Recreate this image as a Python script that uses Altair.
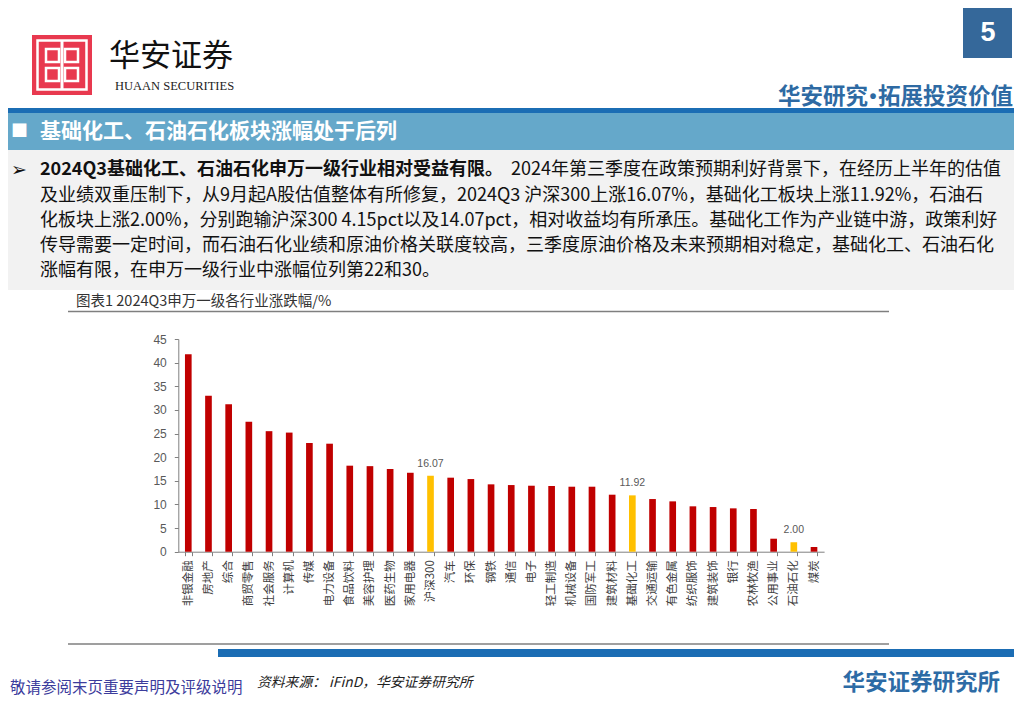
import altair as alt
import pandas as pd

# ---------------- data ----------------
industries = ["非银金融", "房地产", "综合", "商贸零售", "社会服务", "计算机", "传媒", "电力设备",
              "食品饮料", "美容护理", "医药生物", "家用电器", "沪深300", "汽车", "环保", "钢铁",
              "通信", "电子", "轻工制造", "机械设备", "国防军工", "建筑材料", "基础化工", "交通运输",
              "有色金属", "纺织服饰", "建筑装饰", "银行", "农林牧渔", "公用事业", "石油石化", "煤炭"]
changes = [41.75, 33.0, 31.2, 27.5, 25.5, 25.2, 23.0, 22.85,
           18.2, 18.1, 17.5, 16.7, 16.07, 15.66, 15.37, 14.25,
           14.1, 13.96, 13.9, 13.75, 13.75, 12.06, 11.92, 11.14,
           10.65, 9.6, 9.45, 9.17, 9.03, 2.75, 2.00, 0.99]
highlighted = ["沪深300", "基础化工", "石油石化"]
y_ticks = [0, 5, 10, 15, 20, 25, 30, 35, 40, 45]

page_no = "5"
brand_cn = "华安证券"
brand_en = "HUAAN SECURITIES"
slogan_left = "华安研究"
slogan_dot = "•"
slogan_right = "拓展投资价值"
section_title = "基础化工、石油石化板块涨幅处于后列"
para_bold = "2024Q3基础化工、石油石化申万一级行业相对受益有限。"
para_first = "2024年第三季度在政策预期利好背景下，在经历上半年的估值"
para_lines = [
    "及业绩双重压制下，从9月起A股估值整体有所修复，2024Q3 沪深300上涨16.07%，基础化工板块上涨11.92%，石油石",
    "化板块上涨2.00%，分别跑输沪深300  4.15pct以及14.07pct，相对收益均有所承压。基础化工作为产业链中游，政策利好",
    "传导需要一定时间，而石油石化业绩和原油价格关联度较高，三季度原油价格及未来预期相对稳定，基础化工、石油石化",
    "涨幅有限，在申万一级行业中涨幅位列第22和30。",
]
caption = "图表1  2024Q3申万一级各行业涨跌幅/%"
disclaimer = "敬请参阅末页重要声明及评级说明"
source = "资料来源：  iFinD，华安证券研究所"
institute = "华安证券研究所"

CJK = "Noto Sans CJK SC"
LAT = "Liberation Sans"
W, H = 1006, 690
M = 8  # page margin

df = pd.DataFrame({"industry": industries, "change": changes})
df["kind"] = ["hl" if i in highlighted else "base" for i in industries]


def txt(s, x, y, size, color="#000000", weight="normal", align="left",
        font=CJK, style="normal", baseline="middle"):
    return alt.Chart(pd.DataFrame({"t": [s]})).mark_text(
        align=align, baseline=baseline, fontSize=size, font=font,
        color=color, fontWeight=weight, fontStyle=style
    ).encode(x=alt.value(x - M), y=alt.value(y - M), text="t:N")


def rect(x0, y0, x1, y1, color):
    return alt.Chart(pd.DataFrame({"k": [f"{x0}-{y0}-{color}"]})).mark_rect(color=color).encode(
        x=alt.value(x0 - M), x2=alt.value(x1 - M),
        y=alt.value(y0 - M), y2=alt.value(y1 - M))


def outline(x0, y0, x1, y1, color, width):
    return alt.Chart(pd.DataFrame({"k": [f"{x0}-{y0}"]})).mark_rect(
        fillOpacity=0, stroke=color, strokeWidth=width).encode(
        x=alt.value(x0 - M), x2=alt.value(x1 - M),
        y=alt.value(y0 - M), y2=alt.value(y1 - M))


layers = []
# ---- header / logo ----
layers.append(rect(32, 35, 92, 95, "#E8394F"))
layers.append(outline(37.5, 40.5, 86.5, 89.5, "#FFFFFF", 2.5))
layers.append(outline(46, 49, 59, 62, "#FFFFFF", 2.5))
layers.append(outline(65, 49, 78, 62, "#FFFFFF", 2.5))
layers.append(outline(46, 68, 59, 81, "#FFFFFF", 2.5))
layers.append(outline(65, 68, 78, 81, "#FFFFFF", 2.5))
layers.append(rect(60.5, 40, 63.5, 90, "#FFFFFF"))
layers.append(txt(brand_cn, 109, 57, 31, "#111111"))
layers.append(txt(brand_en, 115, 86, 12.5, "#222222", font="Liberation Serif"))
layers.append(rect(963, 8, 1012, 58, "#35689A"))
layers.append(txt(page_no, 988, 33, 27, "#FFFFFF", weight="bold", align="center", font=LAT))
layers.append(txt(slogan_right, 1013, 97, 22.5, "#2E6AA3", weight="bold", align="right"))
layers.append(txt(slogan_dot, 873, 97, 20, "#2E6AA3", weight="bold", align="center", font=LAT))
layers.append(txt(slogan_left, 868, 97, 22.5, "#2E6AA3", weight="bold", align="right"))
layers.append(rect(8, 108, 1016, 113, "#1B6DB4"))
layers.append(rect(8, 113, 1016, 150, "#65A8CA"))
layers.append(txt("■", 11, 132, 17, "#FFFFFF", font=CJK))
layers.append(txt(section_title, 40, 132, 21, "#FFFFFF", weight="bold"))
# ---- frame lines (grey band covered by white leaves a thin rule) ----
layers.append(rect(68, 292, 889, 312.3, "#7F7F7F"))
layers.append(rect(68, 291, 889, 310.8, "#FFFFFF"))
layers.append(rect(68, 625, 889, 644.8, "#7F7F7F"))
layers.append(rect(68, 624, 889, 643.3, "#FFFFFF"))
# ---- paragraph ----
layers.append(rect(8, 150, 1016, 290, "#F2F2F2"))
layers.append(txt("➢", 11, 170, 19, "#111111", font="DejaVu Sans"))
layers.append(txt(para_bold, 40, 170, 18, "#111111", weight="bold"))
layers.append(txt(para_first, 511, 170, 18, "#111111"))
for i, line in enumerate(para_lines):
    layers.append(txt(line, 40, 195.5 + 25.3 * i, 18, "#111111"))
# ---- chart caption / footer texts ----
layers.append(txt(caption, 76, 302, 14.5, "#333333"))
layers.append(rect(218, 649, 1016, 657, "#1B6DB4"))
layers.append(txt(disclaimer, 10, 688, 15.5, "#3C3C9C"))
layers.append(txt(source, 257, 683, 13.8, "#222222", style="italic"))
layers.append(txt(institute, 1000, 683, 22.5, "#2D6BA5", weight="bold", align="right"))

# ---- bar chart ----
x_range = [178.2 - M, 824.1 - M]
y_range = [551.7 - M, 339 - M]

xenc = alt.X("industry:N", sort=industries,
             scale=alt.Scale(range=x_range, paddingInner=0.67, paddingOuter=0.335),
             axis=alt.Axis(title=None, labelAngle=270, labelFont=CJK, labelFontSize=11.5,
                           labelColor="#404040", labelPadding=4, tickBand="extent",
                           tickSize=4, tickColor="#808080", domainColor="#808080",
                           offset=(551.7 - M) - H))
yenc = alt.Y("change:Q",
             scale=alt.Scale(domain=[0, 45], range=y_range, nice=False, zero=True),
             axis=alt.Axis(title=None, values=y_ticks, labelFont=LAT, labelFontSize=12,
                           labelColor="#595959", labelPadding=8, tickSize=4,
                           tickColor="#808080", domainColor="#808080", grid=False,
                           offset=-(178.3 - M)))

bars = alt.Chart(df).mark_bar().encode(
    x=xenc, y=yenc,
    color=alt.Color("kind:N", scale=alt.Scale(domain=["base", "hl"], range=["#C00000", "#FFC000"]),
                    legend=None))
labels = alt.Chart(df).transform_filter(alt.datum.kind == "hl").mark_text(
    baseline="bottom", dy=-7, fontSize=10.5, font=LAT, color="#595959"
).encode(x=alt.X("industry:N", sort=industries), y="change:Q",
         text=alt.Text("change:Q", format=".2f"))

layers.append(bars)
layers.append(labels)

chart = alt.layer(*layers).properties(
    width=W, height=H, padding=0, autosize=alt.AutoSizeParams(type="none")
).configure_view(strokeWidth=0)

chart.save("out.html", embed_options={"renderer": "svg", "actions": False})
